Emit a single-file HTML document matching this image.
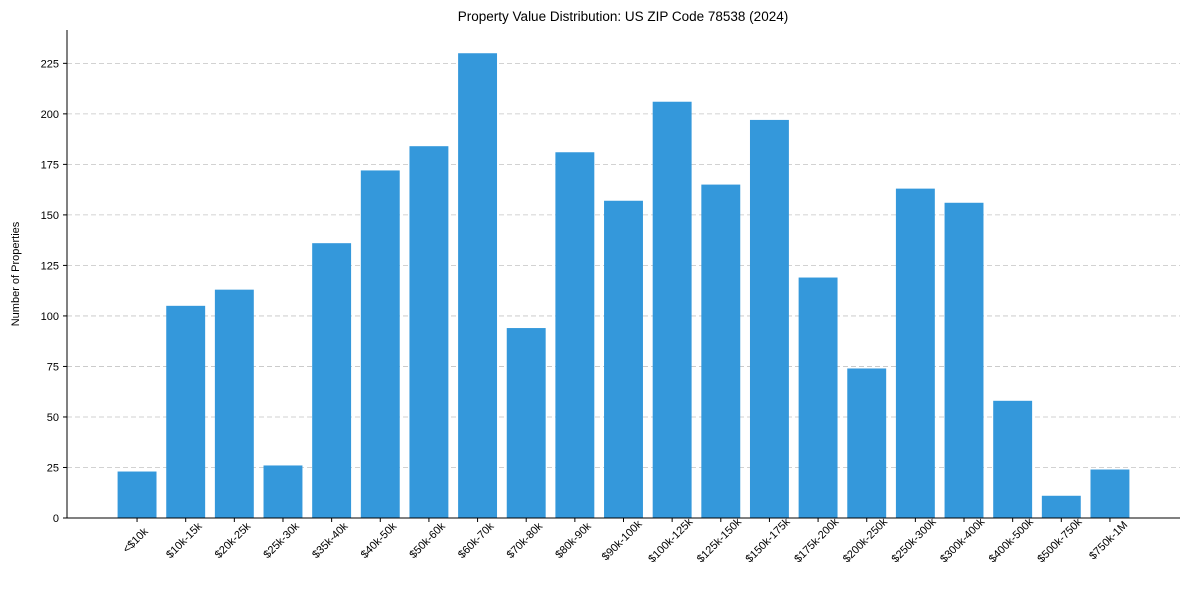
<!DOCTYPE html>
<html><head><meta charset="utf-8"><style>
body{margin:0;background:#fff;}
svg{display:block;font-family:"Liberation Sans",Arial,sans-serif;}
</style></head><body>
<svg id="chart" width="1189" height="590"></svg>
<script>
const categories=["<$10k","$10k-15k","$20k-25k","$25k-30k","$35k-40k","$40k-50k","$50k-60k","$60k-70k","$70k-80k","$80k-90k","$90k-100k","$100k-125k","$125k-150k","$150k-175k","$175k-200k","$200k-250k","$250k-300k","$300k-400k","$400k-500k","$500k-750k","$750k-1M"];
const values=[23,105,113,26,136,172,184,230,94,181,157,206,165,197,119,74,163,156,58,11,24];
const yTicks=[0,25,50,75,100,125,150,175,200,225];
const NS="http://www.w3.org/2000/svg";
const svg=document.getElementById('chart');
const L=67,R=1180,B=518,T=30;
const n=categories.length;
const xmin=-0.4-0.05*(n-1+0.8),xmax=(n-1)+0.4+0.05*(n-1+0.8);
const ymax=Math.max(...values)*1.05;
const xs=i=>L+(i-xmin)/(xmax-xmin)*(R-L);
const ys=v=>B-v/ymax*(B-T);
const bw=0.8*(R-L)/(xmax-xmin);
function mk(t,a){const e=document.createElementNS(NS,t);for(const k in a)e.setAttribute(k,a[k]);svg.appendChild(e);return e;}
yTicks.forEach(v=>{
  if(v>0){const g=mk('line',{x1:L,x2:R,y1:ys(v),y2:ys(v),stroke:'#c4c4c4','stroke-dasharray':'5,3','stroke-width':0.8});
  
  }
  const tk=mk('line',{x1:L-4,x2:L,y1:ys(v),y2:ys(v),stroke:'#000'});
  
  
  const t=mk('text',{x:L-8,y:ys(v)+4,'text-anchor':'end','font-size':11});
  t.textContent=v;
  
  
});
values.forEach((v,i)=>{
  const r=mk('rect',{x:xs(i)-bw/2,y:ys(v),width:bw,height:B-ys(v),fill:'#3498db'});
  
  
  const tk=mk('line',{x1:xs(i),x2:xs(i),y1:B,y2:B+4,stroke:'#000'});
  
  
  const cx=xs(i)-2,cy=B+22;
  const t=mk('text',{x:cx,y:cy+4,'text-anchor':'middle','font-size':11,transform:`rotate(-45 ${cx} ${cy})`});
  t.textContent=categories[i];
  
  
});
const a1=mk('line',{x1:L,x2:L,y1:T,y2:B,stroke:'#000'});


const a2=mk('line',{x1:L,x2:R,y1:B,y2:B,stroke:'#000'});


const yt=mk('text',{x:19,y:274,'text-anchor':'middle','font-size':11,transform:'rotate(-90 19 274)'});
yt.textContent='Number of Properties';


const ti=mk('text',{x:623,y:21,'text-anchor':'middle','font-size':13.5});
ti.textContent='Property Value Distribution: US ZIP Code 78538 (2024)';


</script>
</body></html>
